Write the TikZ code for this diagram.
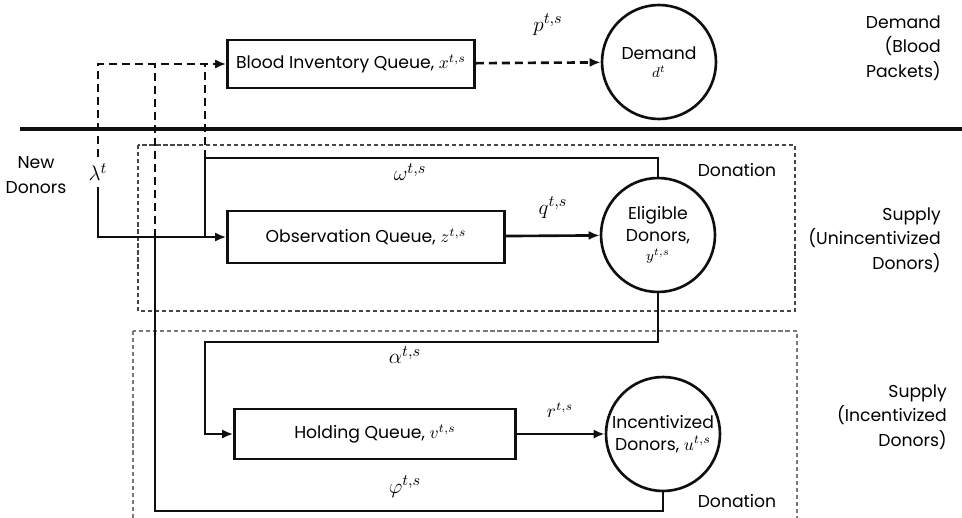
\documentclass[tikz,border=0pt]{standalone}
\usepackage{fontspec}
\setmainfont{Poppins}
\usepackage{tikz}
\usetikzlibrary{arrows.meta,positioning}
\definecolor{flowdark}{RGB}{15,15,15}
\definecolor{zonegrey}{RGB}{120,120,120}
\definecolor{zonedark}{RGB}{70,70,70}
\tikzset{
  >={Latex[length=2.2mm,width=1.8mm]},
  flow/.style={->, line width=1.5pt, draw=flowdark},
  plain/.style={line width=1.5pt, draw=flowdark},
  donflow/.style={line width=1.5pt, draw=flowdark, dash pattern=on 4.6pt off 2.8pt},
  queuebox/.style={
    draw=flowdark,
    line width=1.5pt,
    fill=white,
    align=center,
    inner sep=2pt,
    font=\fontsize{9.8}{12}\selectfont
  },
  pool/.style={
    circle,
    draw=flowdark,
    line width=1.5pt,
    fill=white,
    minimum size=2.28cm,
    inner sep=0pt,
    align=center,
    font=\fontsize{9.8}{12.5}\selectfont
  },
  zonebox/.style={draw=zonegrey, line width=0.7pt, dash pattern=on 2.4pt off 1.6pt},
  sidelabel/.style={anchor=east, align=right, font=\fontsize{9.8}{14}\selectfont},
  ratelabel/.style={font=\fontsize{12.5}{14}\selectfont}
}

\begin{document}
\begin{tikzpicture}[x=0.02cm, y=-0.02cm]
  \useasboundingbox (0,0) rectangle (962,517);

  % zones
  \draw[zonebox, draw=zonedark] (138,145) rectangle (795,311);
  \draw[zonebox] (133,331) rectangle (797,540);
  \draw[line width=1.9pt, draw=flowdark] (20,129) -- (962,129);

  % queues and donor pools
  \node[queuebox, minimum width=4.94cm, minimum height=0.96cm] (inv) at (351,64) {Blood Inventory Queue, $x^{t,s}$};
  \node[pool] (dem) at (659,62) {Demand\\[-2pt]{\footnotesize$d^t$}};
  \node[queuebox, minimum width=5.54cm, minimum height=1.04cm] (obs) at (366,237) {Observation Queue, $z^{t,s}$};
  \node[pool] (elig) at (658,235) {Eligible\\Donors,\\[-2pt]{\footnotesize$y^{t,s}$}};
  \node[queuebox, minimum width=5.62cm, minimum height=1.0cm] (hold) at (375,434) {Holding Queue, $v^{t,s}$};
  \node[pool] (inc) at (663,434) {Incentivized\\Donors, $u^{t,s}$};

  % arrivals
  \node[ratelabel] (lam) at (98,172) {$\lambda^t$};
  \node[sidelabel, anchor=center, align=center] (newd) at (36,175) {New\\Donors};

  % turning points
  \coordinate (wturn) at (205,158);
  \coordinate (aturn) at (205,342);
  \coordinate (fturn) at (155,511);

  \draw[donflow, ->] (lam.north) |- (inv.west);
  \draw[flow] (lam.south) |- (obs.west);
  \draw[donflow, ->] (inv) -- (dem);
  \draw[flow] (obs) -- (elig);
  \draw[flow] (hold) -- (inc);

  \draw[plain] (elig.north) |- (wturn) -- (wturn |- obs.west);
  \draw[donflow] (wturn) -- (wturn |- inv.west);
  \draw[flow] (elig.south) |- (aturn) |- (hold.west);
  \draw[plain] (inc.south) |- (fturn) -- (fturn |- obs.west);
  \draw[donflow] (fturn |- obs.west) -- (fturn |- inv.west);

  % rates
  \node[ratelabel] (prate) at (548,25) {$p^{t,s}$};
  \node[ratelabel] (qrate) at (553,208) {$q^{t,s}$};
  \node[ratelabel, font=\fontsize{10.5}{12}\selectfont] (rrate) at (560,410) {$r^{t,s}$};
  \node[ratelabel] (wrate) at (410,172) {$\omega^{t,s}$};
  \node[ratelabel] (arate) at (405,355) {$\alpha^{t,s}$};
  \node[ratelabel] (frate) at (405,487) {$\varphi^{t,s}$};

  % donation marks
  \node[font=\fontsize{9.8}{12}\selectfont] (don1) at (737,170) {Donation};
  \node[font=\fontsize{9.8}{12}\selectfont] (don2) at (737,501) {Donation};

  % side labels
  \node[sidelabel] (demlab) at (947,48) {Demand\\(Blood\\Packets)};
  \node[sidelabel] (unilab) at (947,240) {Supply\\(Unincentivized\\Donors)};
  \node[sidelabel] (inclab) at (953,417) {Supply\\(Incentivized\\Donors)};
\end{tikzpicture}
\end{document}
